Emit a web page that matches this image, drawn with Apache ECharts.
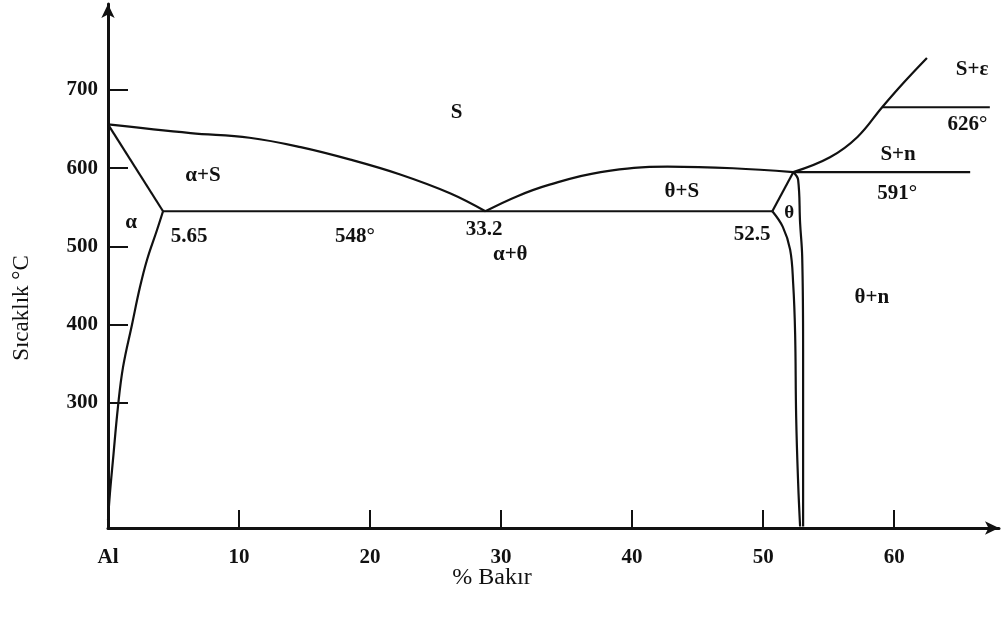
<!DOCTYPE html>
<html lang="tr">
	<head>
		<meta charset="utf-8">
		<title>Al-Cu faz diyagramı</title>
		<style>
			html, body { margin: 0; padding: 0; background: #fff; }
			#main { width: 1001px; height: 617px; }
		</style>
	</head>
	<body>
		<div id="main"></div>
		<script src="https://cdn.jsdelivr.net/npm/echarts/dist/echarts.min.js"></script>
		<script>
			// eksen etiketleri
			var xTicks = [10, 20, 30, 40, 50, 60];
			var xLabels = [0, 10, 20, 30, 40, 50, 60];
			var yTicks = [300, 400, 500, 600, 700];

			// faz sınırları (% Cu, °C)
			var liquidusAl = [[0, 656], [6.3, 645], [10.8, 639], [14.7, 627], [18.5, 611], [22.3, 592], [26.1, 568], [28.8, 545]];
			var solidusAl = [[0, 656], [4.2, 545]];
			var solvusAl = [[4.2, 545], [3.74, 521], [2.98, 483], [2.44, 448], [1.83, 400], [1.15, 346], [0.76, 295], [0.38, 227], [0.15, 185], [0, 150]];
			var eutecticLine = [[4.2, 545], [50.7, 545]];
			var liquidusTheta = [[28.8, 545], [31.2, 564], [33.7, 579], [37.6, 595], [42.7, 602], [47.7, 600], [52.3, 595]];
			var thetaTop = [[50.7, 545], [52.3, 595]];
			var thetaLeft = [[50.7, 545], [51.5, 525], [52.06, 496], [52.29, 453], [52.44, 389], [52.52, 282], [52.67, 198], [52.82, 142]];
			var thetaRight = [[52.3, 595], [52.67, 585], [52.82, 530], [52.98, 487], [53.05, 368], [53.05, 240], [53.05, 142]];
			var line591 = [[52.3, 595], [65.8, 595]];
			var liquidusRight = [[52.3, 595], [55.1, 614], [57.2, 640], [59.08, 678], [60.7, 709], [62.5, 741]];
			var line626 = [[59.08, 678], [67.3, 678]];

			// bölge yazıları
			var regionLabels = [
				[26.6, 671, 'S'],
				[7.25, 590, 'α+S'],
				[1.76, 531, 'α'],
				[43.8, 570, 'θ+S'],
				[30.7, 489, 'α+θ'],
				[58.3, 434, 'θ+n'],
				[60.3, 617, 'S+n'],
				[65.95, 726, 'S+ε']
			];
			var smallLabels = [
				[51.98, 543, 'θ']
			];
			var valueLabels = [
				[6.2, 513, '5.65'],
				[18.85, 513, '548°'],
				[28.7, 522, '33.2'],
				[49.16, 515, '52.5'],
				[60.23, 568, '591°'],
				[65.6, 656, '626°']
			];

			var serif = 'Liberation Serif';

			function boundary(data, curved) {
				return {
					type: 'line',
					data: data,
					smooth: curved ? 0.4 : false,
					showSymbol: false,
					symbol: 'none',
					silent: true,
					lineStyle: { color: '#111', width: 2.2 }
				};
			}

			function textSeries(data, size, weight) {
				return {
					type: 'scatter',
					data: data,
					symbolSize: 0,
					silent: true,
					itemStyle: { opacity: 1 },
					label: {
						show: true,
						position: 'inside',
						formatter: function (p) { return p.data[2]; },
						color: '#111',
						opacity: 1,
						fontFamily: serif,
						fontSize: size,
						fontWeight: weight
					}
				};
			}

			var myChart = echarts.init(document.getElementById('main'));
			var option = {
				animation: false,
				backgroundColor: '#fff',
				grid: { left: 108, right: 2, top: 4, bottom: 89 },
				xAxis: {
					type: 'value',
					min: 0,
					max: 68,
					splitLine: { show: false },
					axisLine: {
						show: true,
						symbol: ['none', 'arrow'],
						symbolSize: [10, 14],
						lineStyle: { color: '#111', width: 3 }
					},
					axisTick: {
						show: true,
						inside: true,
						length: 18,
						customValues: xTicks,
						lineStyle: { color: '#111', width: 2 }
					},
					axisLabel: {
						customValues: xLabels,
						margin: 19,
						color: '#111',
						fontFamily: serif,
						fontSize: 21,
						fontWeight: 'bold',
						formatter: function (v) { return v === 0 ? 'Al' : String(v); }
					}
				},
				yAxis: {
					type: 'value',
					min: 140,
					max: 810,
					splitLine: { show: false },
					axisLine: {
						show: true,
						symbol: ['none', 'arrow'],
						symbolSize: [10, 14],
						lineStyle: { color: '#111', width: 3 }
					},
					axisTick: {
						show: true,
						inside: true,
						length: 20,
						customValues: yTicks,
						lineStyle: { color: '#111', width: 2 }
					},
					axisLabel: {
						customValues: yTicks,
						margin: 10,
						color: '#111',
						fontFamily: serif,
						fontSize: 21,
						fontWeight: 'bold'
					}
				},
				graphic: [
					{
						type: 'text',
						x: 22,
						y: 308,
						rotation: Math.PI / 2,
						style: {
							text: 'Sıcaklık °C',
							fill: '#111',
							font: '23px "Liberation Serif"',
							align: 'center',
							verticalAlign: 'middle'
						}
					},
					{
						type: 'text',
						x: 492,
						y: 578,
						style: {
							text: '% Bakır',
							fill: '#111',
							font: '24px "Liberation Serif"',
							align: 'center',
							verticalAlign: 'middle'
						}
					}
				],
				series: [
					boundary(liquidusAl, true),
					boundary(solidusAl, false),
					boundary(solvusAl, true),
					boundary(eutecticLine, false),
					boundary(liquidusTheta, true),
					boundary(thetaTop, false),
					boundary(thetaLeft, true),
					boundary(thetaRight, true),
					boundary(line591, false),
					boundary(liquidusRight, true),
					boundary(line626, false),
					textSeries(regionLabels, 21, 'bold'),
					textSeries(smallLabels, 19, 'bold'),
					textSeries(valueLabels, 21, 'bold')
				]
			};
			myChart.setOption(option);
		</script>
	</body>
</html>
